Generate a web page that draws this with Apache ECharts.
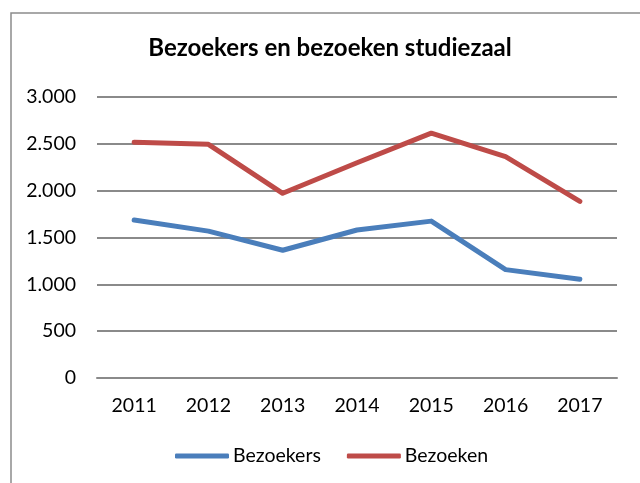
<!DOCTYPE html>
<html>
<head>
<meta charset="utf-8">
<script src="https://cdn.jsdelivr.net/npm/echarts@6/dist/echarts.min.js"></script>
<style>
html,body{margin:0;padding:0;background:#fff;}
#chart{width:640px;height:483px;}
</style>
</head>
<body>
<div id="chart"></div>
<script>
const years = ['2011','2012','2013','2014','2015','2016','2017'];
const bezoekers = [1686, 1568, 1364, 1580, 1675, 1157, 1054];
const bezoeken = [2518, 2495, 1972, 2298, 2614, 2364, 1886];
const titleText = 'Bezoekers en bezoeken studiezaal';
const seriesNames = ['Bezoekers', 'Bezoeken'];

const FONT = 'Lato';
const FS = 19.5;
const chart = echarts.init(document.getElementById('chart'), null, {renderer: 'canvas'});
chart.setOption({
  backgroundColor: '#fff',
  animation: false,
  graphic: [{
    type: 'rect',
    shape: {x: 11, y: 13, width: 700, height: 600},
    style: {fill: 'none', stroke: '#8c8c8c', lineWidth: 1.5},
    silent: true
  }],
  title: {
    text: titleText,
    left: 330, textAlign: 'center',
    top: 36,
    padding: 0,
    textStyle: {fontFamily: FONT, fontWeight: 'bold', fontSize: 24, color: '#000'}
  },
  legend: {
    data: seriesNames,
    left: 175, top: 446,
    padding: 0,
    itemWidth: 54, itemHeight: 5, itemGap: 26,
    icon: 'roundRect',
    textStyle: {fontFamily: FONT, fontSize: FS, color: '#000', padding: [0,0,0,-1]}
  },
  grid: {left: 97, right: 23, top: 97, bottom: 105, containLabel: false},
  xAxis: {
    type: 'category',
    data: years,
    boundaryGap: true,
    axisLine: {show: true, lineStyle: {color: '#8a8a8a', width: 2}},
    axisTick: {show: false},
    axisLabel: {fontFamily: FONT, fontSize: FS, color: '#000', margin: 18}
  },
  yAxis: {
    type: 'value',
    min: 0, max: 3000, interval: 500,
    axisLine: {show: false},
    axisTick: {show: false},
    splitLine: {lineStyle: {color: '#8a8a8a', width: 2}},
    axisLabel: {
      fontFamily: FONT, fontSize: FS, color: '#000', margin: 21,
      formatter: v => v >= 1000 ? Math.floor(v/1000) + '.' + String(v%1000).padStart(3,'0') : String(v)
    }
  },
  series: [
    {name: seriesNames[0], type: 'line', data: bezoekers, showSymbol: false, symbol: 'none',
     lineStyle: {color: '#4A7EBB', width: 5, cap: 'round', join: 'round'}, itemStyle: {color: '#4A7EBB'}},
    {name: seriesNames[1], type: 'line', data: bezoeken, showSymbol: false, symbol: 'none',
     lineStyle: {color: '#BE4B48', width: 5, cap: 'round', join: 'round'}, itemStyle: {color: '#BE4B48'}}
  ]
});
</script>
</body>
</html>
